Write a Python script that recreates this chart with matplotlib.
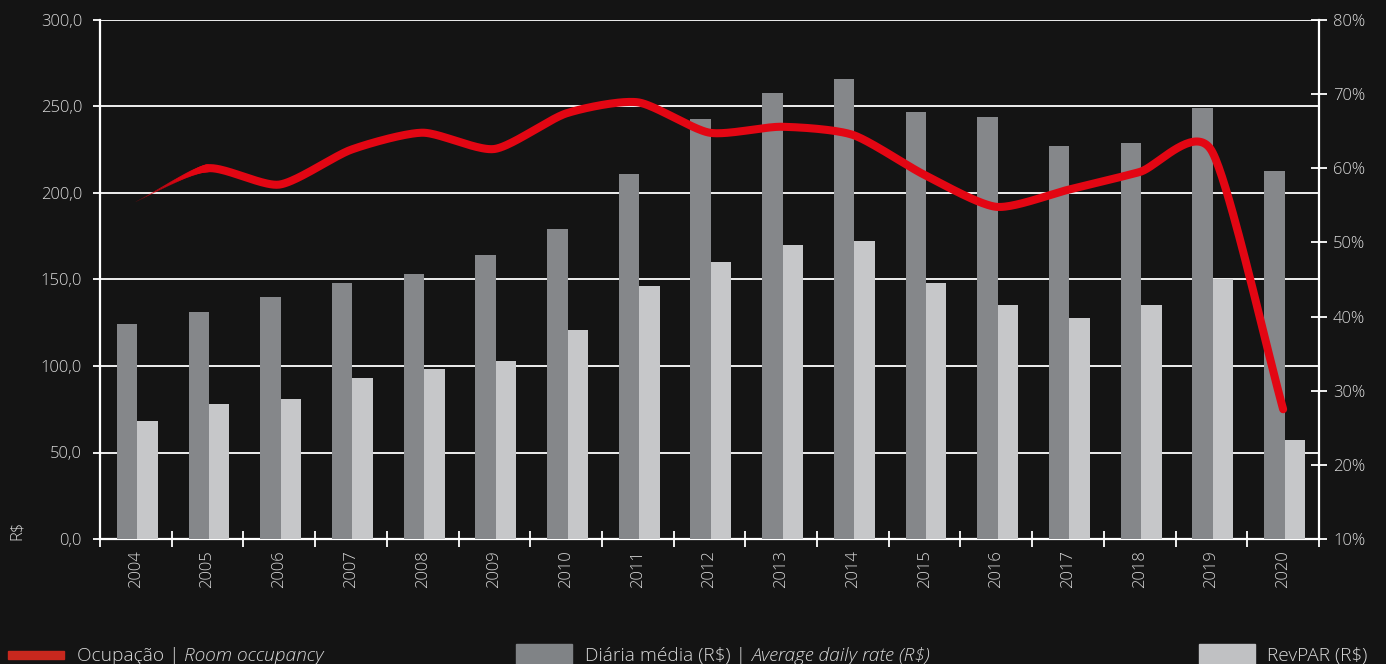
#!/usr/bin/env python3
"""
Hotel indicators 2004-2020: average daily rate and RevPAR (bars, R$)
with room occupancy (smoothed line, right axis).
"""

import matplotlib
matplotlib.use("Agg")
import matplotlib.pyplot as plt
import matplotlib.ticker as mticker
from matplotlib.collections import LineCollection
import numpy as np

# ---------------------------------------------------------------------------
#  Data
# ---------------------------------------------------------------------------
YEARS = [str(y) for y in range(2004, 2021)]

ADR = [124, 131, 140, 148, 153, 164, 179, 211, 243, 258, 266,
       247, 244, 227, 229, 249, 213]

REVPAR = [68, 78, 81, 93, 98, 103, 121, 146, 160, 170, 172,
          148, 135, 128, 135, 150, 57]

OCCUPANCY = [55.5, 60.0, 57.8, 62.5, 64.8, 62.6, 67.4, 68.9, 64.8, 65.6,
             64.5, 59.1, 54.8, 57.1, 59.5, 62.4, 27.5]

# ---------------------------------------------------------------------------
#  Style
# ---------------------------------------------------------------------------
BG       = "#141414"
C_ADR    = "#85878a"
C_REVPAR = "#c6c7c9"
C_OCC    = "#e30613"
C_TEXT   = "#d8d8d8"
FS       = 12

plt.rcParams["font.family"] = ["Open Sans", "DejaVu Sans"]
plt.rcParams["font.weight"] = 300


def cardinal(xs, ys, tension=0.7, n=40):
    """Smoothed line through the points (cardinal spline, scaled tangents)."""
    xs = np.asarray(xs, float)
    ys = np.asarray(ys, float)
    mx = np.gradient(xs) * tension
    my = np.gradient(ys) * tension
    t = np.linspace(0, 1, n, endpoint=False)
    h00 = 2 * t**3 - 3 * t**2 + 1
    h10 = t**3 - 2 * t**2 + t
    h01 = -2 * t**3 + 3 * t**2
    h11 = t**3 - t**2
    out_x, out_y = [], []
    for i in range(len(xs) - 1):
        out_x.extend(h00 * xs[i] + h10 * mx[i] + h01 * xs[i + 1] + h11 * mx[i + 1])
        out_y.extend(h00 * ys[i] + h10 * my[i] + h01 * ys[i + 1] + h11 * my[i + 1])
    out_x.append(xs[-1])
    out_y.append(ys[-1])
    return np.array(out_x), np.array(out_y)


fig = plt.figure(figsize=(13.86, 6.64), dpi=100, facecolor=BG)
ax = fig.add_axes([100 / 1386, 125 / 664, 1219 / 1386, 519 / 664])
ax.set_facecolor(BG)

x = np.arange(len(YEARS))
w = 0.285
ax.bar(x - w / 2 + 0.02, ADR, w, color=C_ADR, zorder=3)
ax.bar(x + w / 2 + 0.02, REVPAR, w, color=C_REVPAR, zorder=3)

ax.set_xlim(-0.5, len(YEARS) - 0.5)
ax.set_ylim(0, 300)
ax.set_yticks(np.arange(0, 301, 50))
ax.yaxis.set_major_formatter(
    mticker.FuncFormatter(lambda v, _: f"{v:.1f}".replace(".", ",")))
ax.grid(True, axis="y", color="white", linewidth=1.3, zorder=1)
ax.set_axisbelow(True)

ax.set_xticks(x)
ax.set_xticklabels(YEARS, rotation=90)
ax.set_xticks(np.arange(-0.5, len(YEARS)), minor=True)
ax.tick_params(axis="x", which="major", length=0, pad=8,
               labelsize=FS, labelcolor=C_TEXT)
ax.tick_params(axis="x", which="minor", length=12, direction="inout",
               color="white", width=1.3)
ax.tick_params(axis="y", length=5, color="white", width=1.3,
               labelsize=FS, labelcolor=C_TEXT, pad=8)

for side in ("top", "right"):
    ax.spines[side].set_visible(False)
for side in ("left", "bottom"):
    ax.spines[side].set_color("white")
    ax.spines[side].set_linewidth(1.6)

# right axis: occupancy
ax2 = ax.twinx()
ax2.set_ylim(10, 80)
ax2.set_yticks(np.arange(10, 81, 10))
ax2.yaxis.set_major_formatter(mticker.FuncFormatter(lambda v, _: f"{v:.0f}%"))
ax2.tick_params(axis="y", length=12, direction="inout", color="white",
                width=1.3, labelsize=FS, labelcolor=C_TEXT, pad=4)
for side in ("top", "left", "bottom"):
    ax2.spines[side].set_visible(False)
ax2.spines["right"].set_color("white")
ax2.spines["right"].set_linewidth(1.6)

sx, sy = cardinal(x, OCCUPANCY)
ax2.plot(sx[40:], sy[40:], color=C_OCC, linewidth=5.8,
         solid_capstyle="round", zorder=5)
# first stretch fades in like a brush stroke
seg_x, seg_y = sx[:41], sy[:41]
pts = np.column_stack([seg_x, seg_y]).reshape(-1, 1, 2)
segs = np.concatenate([pts[:-1], pts[1:]], axis=1)
ramp = np.linspace(0, 1, len(segs))
lc = LineCollection(segs, linewidths=0.3 + 5.5 * ramp ** 1.5,
                    colors=[(0.89, 0.02, 0.07, 0.3 + 0.7 * r) for r in ramp],
                    capstyle="round", zorder=5)
ax2.add_collection(lc)

fig.text(17 / 1386, 1 - 530 / 664, "R$", rotation=90, ha="center",
         va="center", color=C_TEXT, fontsize=FS)


# legend along the bottom edge
def legend_text(x0, plain, italic=None):
    t = fig.text(x0 / 1386, 1 - 661 / 664, plain, color=C_TEXT,
                 fontsize=13.8, va="baseline", ha="left")
    if italic:
        ax.annotate(italic, xy=(1, 0), xycoords=t, xytext=(0, 0),
                    textcoords="offset points", color=C_TEXT, fontsize=13.8,
                    style="italic", va="bottom", ha="left",
                    annotation_clip=False)


fig.patches.append(plt.Rectangle((8 / 1386, 1 - 659 / 664), 56 / 1386,
                                 8 / 664, transform=fig.transFigure,
                                 color="#c8281e"))
fig.patches.append(plt.Rectangle((516 / 1386, 0), 56 / 1386, 20 / 664,
                                 transform=fig.transFigure, color="#808386"))
fig.patches.append(plt.Rectangle((1199 / 1386, 0), 56 / 1386, 20 / 664,
                                 transform=fig.transFigure, color="#c0c1c3"))
legend_text(77, "Ocupação | ", "Room occupancy")
legend_text(585, "Diária média (R$) | ", "Average daily rate (R$)")
legend_text(1267, "RevPAR (R$)")

fig.savefig("out.png", dpi=100, facecolor=BG)
